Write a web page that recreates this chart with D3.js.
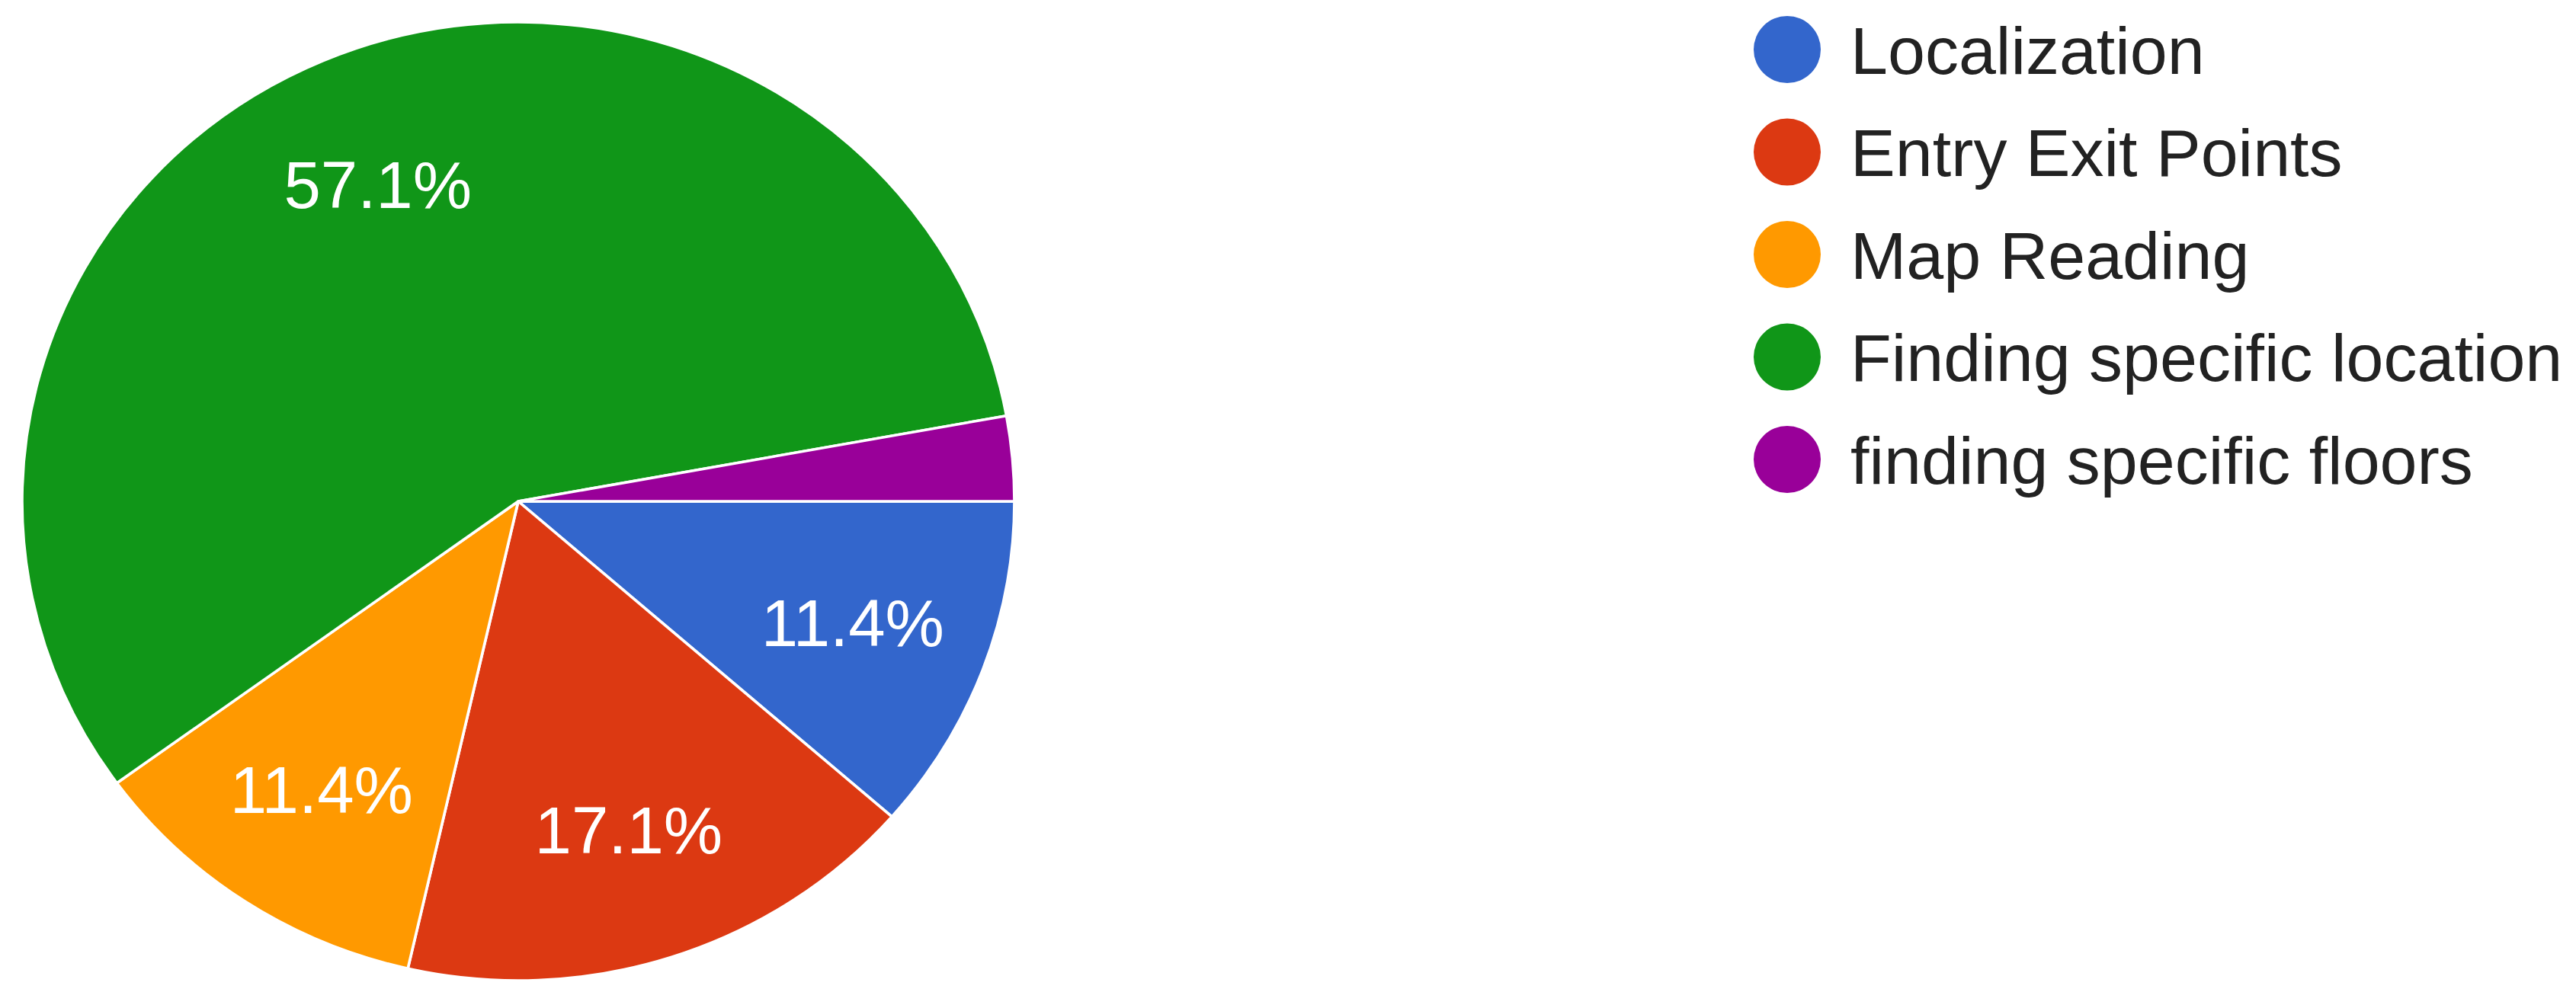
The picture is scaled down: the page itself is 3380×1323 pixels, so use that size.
<!DOCTYPE html>
<html lang="en">
<head>
  <meta charset="UTF-8" />
  <title>Pie</title>
  <script src="https://d3js.org/d3.v7.min.js"></script>
  <style>
    * { margin: 0; padding: 0; }
    body { background: #fff; width: 3380px; height: 1323px; overflow: hidden; }
    svg { display: block; font-family: Arial, 'Liberation Sans', sans-serif; }
  </style>
</head>
<body>
  <svg id="chart" width="3380" height="1323"></svg>

  <script>
    const categories = ['Localization', 'Entry Exit Points', 'Map Reading', 'Finding specific location', 'finding specific floors'];
    const counts = [4, 6, 4, 20, 1];
    const colors = ['#3366cc', '#dc3912', '#ff9900', '#109618', '#990099'];

    const svg = d3.select('#chart');
    const cx = 680, cy = 658;
    const r = 629;
    const sx = 1.035; // source image is a bit wider than tall

    const total = d3.sum(counts);
    const pie = d3.pie().sort(null)
      .startAngle(Math.PI / 2)
      .endAngle(Math.PI / 2 + 2 * Math.PI);
    const arcs = pie(counts);

    const arc = d3.arc().innerRadius(0).outerRadius(r);
    const labelArc = d3.arc().innerRadius(r * 0.72).outerRadius(r * 0.72);

    const g = svg.append('g').attr('transform', `translate(${cx},${cy}) scale(${sx},1)`);
    g.selectAll('path').data(arcs).enter().append('path')
      .attr('d', arc)
      .attr('fill', (d, i) => colors[i])
      .attr('stroke', '#fff')
      .attr('stroke-width', 3.5)
      .attr('stroke-linejoin', 'round');

    const fmt = d3.format('.1%');
    svg.append('g').selectAll('text').data(arcs.filter(d => d.value / total > 0.05)).enter().append('text')
      .attr('x', d => cx + sx * labelArc.centroid(d)[0])
      .attr('y', d => cy + labelArc.centroid(d)[1])
      .attr('dy', '0.36em')
      .attr('text-anchor', 'middle')
      .attr('fill', '#fff')
      .attr('font-size', 87)
      .text(d => fmt(d.value / total));

    // legend
    const lx = 2345, ly = 65, step = 134.5;
    const leg = svg.append('g').selectAll('g').data(categories).enter().append('g')
      .attr('transform', (d, i) => `translate(${lx},${ly + i * step})`);
    leg.append('circle').attr('r', 44).attr('fill', (d, i) => colors[i]);
    leg.append('text')
      .attr('x', 83)
      .attr('dy', '0.36em')
      .attr('fill', '#222')
      .attr('font-size', 88)
      .text(d => d);
  </script>
</body>
</html>
